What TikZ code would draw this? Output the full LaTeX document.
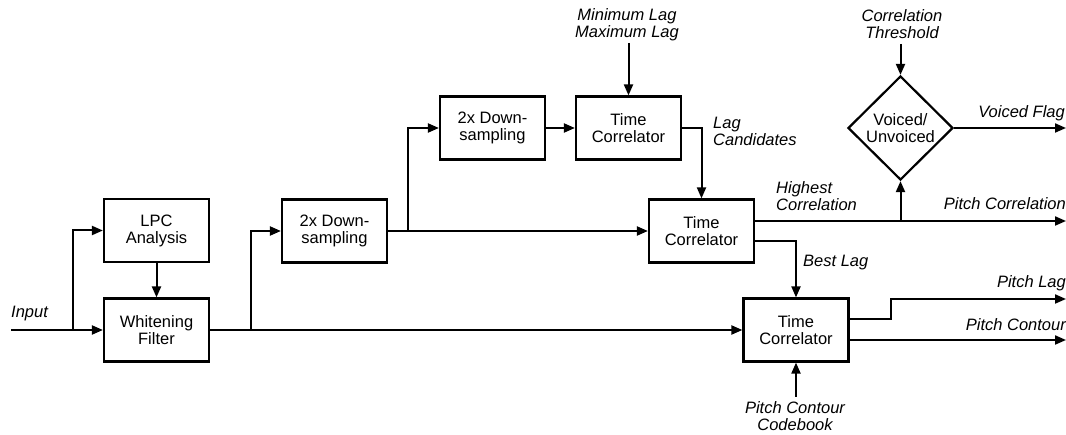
\documentclass[tikz,border=0pt]{standalone}
\usepackage{fontspec}
\setmainfont{Liberation Sans}
\usetikzlibrary{arrows.meta,shapes.geometric}
\begin{document}
\begin{tikzpicture}[x=1pt,y=-1pt,
  every node/.style={font=\fontsize{16.5}{17}\selectfont, inner sep=0pt},
  blk/.style={draw, line width=2.2pt, minimum width=105pt, minimum height=63pt, align=center},
  dia/.style={draw, diamond, line width=2.2pt, minimum width=105pt, minimum height=104pt, align=center},
  lbl/.style={font=\fontsize{16.5}{17}\selectfont\itshape, align=center},
  arr/.style={line width=2pt, -{Triangle[length=11pt,width=9pt]}}]
\useasboundingbox (0,0) rectangle (1066,435);
% blocks
\node[blk] (lpc) at (156.5,230.5) {LPC\\Analysis};
\node[blk] (wf) at (156.5,330) {Whitening\\Filter};
\node[blk] (ds1) at (334.5,231) {2x Down-\\sampling};
\node[blk] (ds2) at (492.5,128) {2x Down-\\sampling};
\node[blk] (tc1) at (628.5,128) {Time\\Correlator};
\node[blk] (tc2) at (701.5,231) {Time\\Correlator};
\node[blk] (tc3) at (796,330) {Time\\Correlator};
\node[dia] (vu) at (900.5,128) {Voiced/\\Unvoiced};
% labels
\node[lbl, anchor=west] (linput) at (11,314) {Input};
\node[lbl] (lminmax) at (627,25) {Minimum Lag\\Maximum Lag};
\node[lbl] (lthr) at (902,24) {Correlation\\Threshold};
\node[lbl, anchor=west, align=left] (llag) at (713,131) {Lag\\Candidates};
\node[lbl, anchor=west, align=left] (lhigh) at (776,196) {Highest\\Correlation};
\node[lbl, anchor=east] (lpcor) at (1066,204) {Pitch Correlation};
\node[lbl, anchor=east] (lvf) at (1065,113) {Voiced Flag};
\node[lbl, anchor=west] (lbest) at (803,263) {Best Lag};
\node[lbl, anchor=east] (lplag) at (1066,283) {Pitch Lag};
\node[lbl, anchor=east] (lpcon) at (1066,325) {Pitch Contour};
\node[lbl] (lcode) at (795,416) {Pitch Contour\\Codebook};
% coordinates
\coordinate (in) at (11,330);
\coordinate (b1) at (73,330);
\coordinate (b2) at (251,330);
\coordinate (b3) at (408,231);
\coordinate (minsrc) at (628.5,43);
\coordinate (thrsrc) at (900.5,44);
\coordinate (o2a) at (754,221);
\coordinate (b4) at (900.5,221);
\coordinate (opc) at (1066,221);
\coordinate (ovf) at (1066,128);
\coordinate (o2b) at (754,241);
\coordinate (o3a) at (849,319);
\coordinate (k3) at (891,319);
\coordinate (opl) at (1066,299);
\coordinate (o3b) at (849,340);
\coordinate (opcon) at (1066,340);
\coordinate (codesrc) at (796,397);
% connectors
\draw[arr] (in) -- (wf.west);
\draw[arr] (b1) |- (lpc.west);
\draw[arr] (lpc.south) -- (wf.north);
\draw[arr] (wf.east) -- (tc3.west);
\draw[arr] (b2) |- (ds1.west);
\draw[arr] (ds1.east) -- (tc2.west);
\draw[arr] (b3) |- (ds2.west);
\draw[arr] (ds2.east) -- (tc1.west);
\draw[arr] (minsrc) -- (tc1.north);
\draw[arr] (tc1.east) -| (tc2.north);
\draw[arr] (o2a) -- (opc);
\draw[arr] (b4) -- (vu.south);
\draw[arr] (thrsrc) -- (vu.north);
\draw[arr] (vu.east) -- (ovf);
\draw[arr] (o2b) -| (tc3.north);
\draw[arr] (o3a) -- (k3) |- (opl);
\draw[arr] (o3b) -- (opcon);
\draw[arr] (codesrc) -- (tc3.south);
\end{tikzpicture}
\end{document}
